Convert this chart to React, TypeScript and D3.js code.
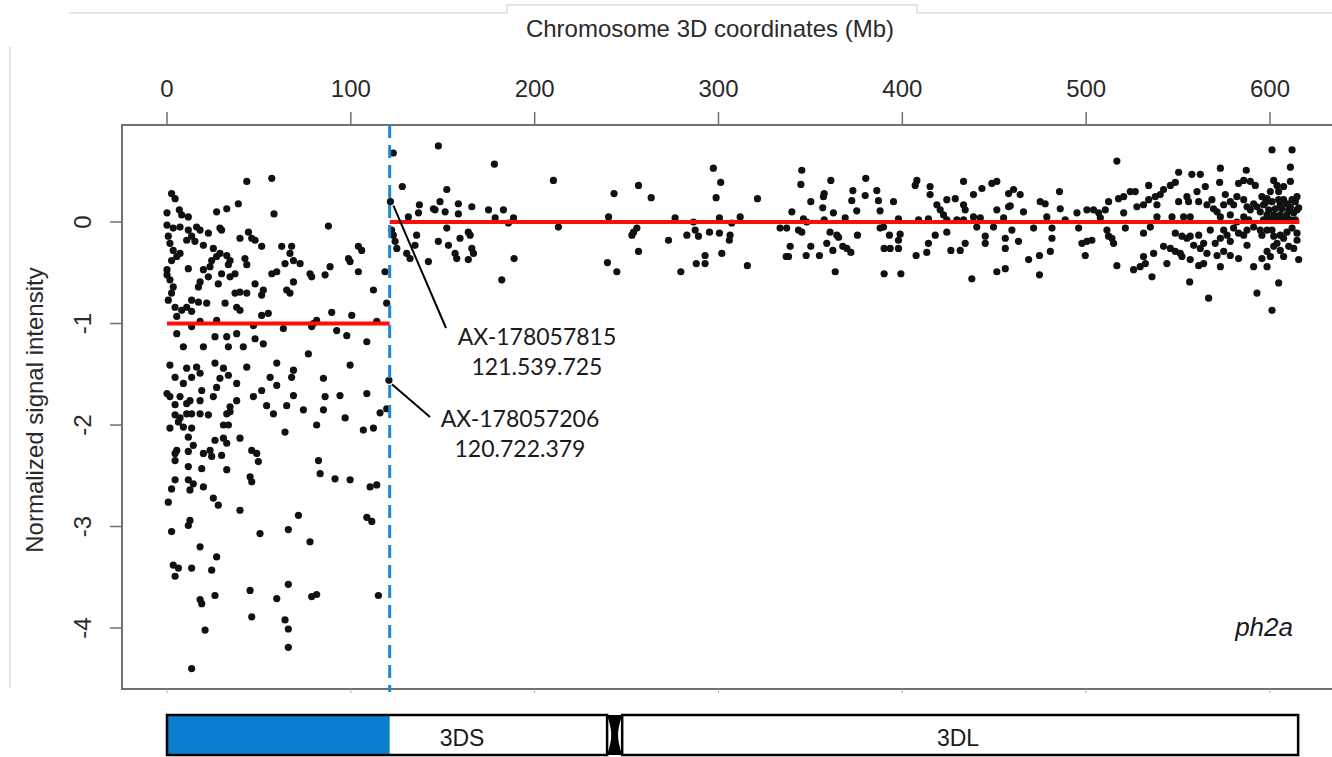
import React, { useEffect, useRef } from 'react';
import * as d3 from 'd3';

// axis ticks
const xTicks = [0, 100, 200, 300, 400, 500, 600];
const yTicks = [0, -1, -2, -3, -4];

// probes on the deleted part of 3DS: [position (Mb), normalized intensity]
const deletedProbes: [number, number][] = [
  [43.4,0.40],[57.0,0.43],[2.5,0.28],[4.4,0.23],[27.0,0.10],[32.5,0.13],[38.8,0.18],[58.2,0.08],[0,0.09],[6.7,0.12],
  [8.0,0.07],[11.6,0.05],[0,-0.03],[3.4,-0.06],[7.1,-0.05],[11.6,-0.08],[16.1,-0.05],[18.0,-0.08],[22.5,-0.11],[28.8,-0.06],
  [29.7,-0.08],[44.3,-0.10],[46.1,-0.16],[47.9,-0.18],[51.5,-0.24],[39.7,-0.16],[87.8,-0.04],[62.4,-0.24],[67.8,-0.24],[66.9,-0.31],
  [0.7,-0.14],[1.6,-0.21],[3.4,-0.28],[5.3,-0.34],[7.1,-0.31],[2.5,-0.38],[0,-0.47],[0,-0.52],[1.6,-0.57],[3.4,-0.64],
  [2.5,-0.70],[0.7,-0.77],[4.4,-0.84],[5.3,-0.93],[10.7,-0.18],[13.4,-0.14],[15.2,-0.19],[19.8,-0.23],[25.2,-0.26],[28.8,-0.31],
  [27.0,-0.34],[32.5,-0.33],[34.3,-0.38],[33.4,-0.42],[29.7,-0.51],[24.3,-0.38],[23.4,-0.44],[19.8,-0.47],[42.4,-0.36],[43.4,-0.42],
  [37.0,-0.51],[11.6,-0.46],[18.0,-0.59],[17.1,-0.64],[22.5,-0.54],[27.9,-0.61],[34.3,-0.54],[37.0,-0.70],[39.7,-0.69],[43.4,-0.70],
  [47.9,-0.61],[52.4,-0.67],[51.5,-0.72],[57.0,-0.51],[59.7,-0.49],[64.2,-0.41],[68.8,-0.38],[72.4,-0.41],[68.8,-0.59],[65.1,-0.67],
  [66.9,-0.70],[77.8,-0.51],[78.7,-0.54],[86.0,-0.52],[88.7,-0.44],[98.7,-0.36],[99.6,-0.39],[104.1,-0.24],[105.9,-0.28],[104.1,-0.49],
  [112.3,-0.67],[118.6,-0.49],[21.6,-0.80],[17.1,-0.79],[13.4,-0.77],[10.7,-0.84],[13.4,-0.88],[8.0,-0.87],[31.6,-0.80],[37.9,-0.84],
  [39.7,-0.87],[51.5,-0.92],[55.1,-0.90],[89.6,-0.89],[100.5,-0.92],[81.4,-0.97],[79.6,-1.00],[114.1,-0.98],[119.5,-0.80],[5.3,-1.10],
  [13.4,-1.03],[18.0,-0.98],[27.0,-0.97],[47.0,-1.02],[63.3,-1.05],[78.7,-1.03],[92.3,-1.07],[97.8,-1.12],[108.7,-1.18],[26.1,-1.13],
  [32.5,-1.13],[37.9,-1.10],[47.9,-1.15],[52.4,-1.20],[33.4,-1.23],[41.5,-1.23],[8.9,-1.23],[19.8,-1.23],[76.9,-1.30],[99.6,-1.41],
  [1.6,-1.41],[10.7,-1.44],[16.1,-1.43],[18.0,-1.49],[13.4,-1.53],[8.9,-1.59],[4.4,-1.53],[26.1,-1.39],[30.7,-1.44],[33.4,-1.51],
  [28.8,-1.54],[27.0,-1.63],[37.9,-1.59],[43.4,-1.43],[59.7,-1.39],[56.1,-1.53],[59.7,-1.61],[68.8,-1.46],[67.8,-1.53],[85.1,-1.54],
  [120.72,-1.56],[0,-1.69],[1.6,-1.72],[7.1,-1.72],[12.5,-1.76],[18.9,-1.66],[18.0,-1.76],[25.2,-1.72],[37.9,-1.76],[47.0,-1.72],
  [51.5,-1.66],[68.8,-1.71],[86.0,-1.72],[94.1,-1.71],[108.7,-1.69],[65.1,-1.81],[54.2,-1.81],[34.3,-1.82],
  [4.4,-1.80],[10.7,-1.79],[4.4,-1.90],[7.1,-1.93],[6.2,-1.97],[10.7,-1.89],[13.4,-1.89],[18.0,-1.89],[22.5,-1.90],[32.5,-1.89],
  [34.3,-1.87],[30.7,-2.00],[33.4,-2.00],[57.9,-1.89],[74.2,-1.85],[85.1,-1.85],[81.4,-2.00],[96.9,-1.93],[106.8,-2.05],[112.3,-2.03],
  [115.9,-1.88],[119.5,-1.84],[64.2,-2.07],[1.6,-2.03],[8.9,-2.02],[13.4,-2.03],[11.6,-2.12],[14.3,-2.20],[26.1,-2.15],[30.7,-2.13],
  [32.5,-2.18],[39.7,-2.13],[5.3,-2.25],[4.4,-2.28],[11.6,-2.26],[19.8,-2.28],[23.4,-2.25],[24.3,-2.31],[29.7,-2.30],[46.1,-2.25],
  [48.8,-2.28],[49.7,-2.36],[4.4,-2.35],[11.6,-2.41],[18.9,-2.43],[32.5,-2.44],[45.2,-2.51],[46.1,-2.56],[82.4,-2.35],[83.3,-2.48],
  [91.4,-2.53],[99.6,-2.54],[110.5,-2.61],[114.1,-2.59],[4.4,-2.54],[2.5,-2.63],[11.6,-2.54],[12.5,-2.64],[14.3,-2.58],[19.8,-2.61],
  [0.7,-2.76],[25.2,-2.72],[27.9,-2.79],[39.7,-2.84],[71.5,-2.89],[108.7,-2.91],[111.4,-2.95],[2.5,-3.05],[11.6,-2.99],[12.5,-2.94],
  [50.6,-3.07],[66.0,-3.03],[77.8,-3.15],[18.0,-3.20],[27.0,-3.30],[3.4,-3.38],[6.2,-3.41],[4.4,-3.49],[13.4,-3.41],[24.3,-3.43],
  [66.0,-3.57],[45.2,-3.63],[26.1,-3.68],[59.7,-3.71],[78.7,-3.69],[81.4,-3.67],[115.0,-3.68],[18.0,-3.72],[18.9,-3.76],[46.1,-3.89],
  [64.2,-3.92],[66.0,-4.01],[20.7,-4.02],[66.0,-4.19],[13.4,-4.40],
];

// probes on the rest of chromosome 3D
const retainedProbes: [number, number][] = [
  [123.1,0.68],[147.6,0.75],[178.1,0.57],[210.2,0.41],[128.0,0.35],[152.2,0.32],[243.2,0.28],[256.5,0.36],[263.4,0.24],[121.54,0.20],
  [137.3,0.17],[144.9,0.13],[148.5,0.20],[151.3,0.10],[158.5,0.18],[158.5,0.08],[165.8,0.15],[174.9,0.12],[183.0,0.12],[178.5,0.04],
  [188.5,0.04],[185.7,-0.01],[131.3,0.05],[136.8,0.09],[145.8,0.12],[212.9,-0.05],[240.2,0.05],[276.4,0.04],[286.4,0.00],[287.3,-0.08],
  [289.1,-0.14],[122.2,-0.08],[123.1,-0.13],[124.1,-0.19],[125.0,-0.26],[135.8,-0.13],[134.9,-0.23],[130.4,-0.31],[132.2,-0.36],[142.2,-0.39],
  [147.6,-0.19],[152.2,-0.06],[153.1,-0.23],[156.7,-0.31],[157.6,-0.36],[159.4,-0.16],[163.9,-0.10],[164.9,-0.13],[165.8,-0.26],[166.7,-0.31],
  [163.9,-0.37],[188.8,-0.36],[182.1,-0.57],[252.9,-0.13],[253.8,-0.10],[255.6,-0.06],[256.5,-0.29],[239.6,-0.40],[244.7,-0.49],[272.8,-0.18],
  [282.8,-0.13],[279.5,-0.49],[287.9,-0.41],
  [297.2,0.53],[345.3,0.51],[301.2,0.39],[344.8,0.37],[298.7,0.24],[321.2,0.23],[361.1,0.41],[380.1,0.43],[407.9,0.41],[407.0,0.36],
  [415.1,0.35],[415.1,0.27],[433.3,0.40],[438.7,0.27],[443.3,0.33],[448.7,0.38],[451.4,0.40],[457.8,0.28],[373.1,0.31],[372.5,0.21],
  [379.8,0.26],[386.1,0.31],[387.0,0.21],[387.9,0.11],[395.2,0.20],[357.5,0.28],[357.1,0.25],[350.2,0.20],[356.7,0.14],[362.5,0.09],
  [339.9,0.10],[375.2,0.11],[368.9,0.04],[346.2,0.03],[357.5,0.02],[397.9,0.03],[408.8,0.02],[414.2,0.03],[418.8,0.17],[420.6,0.12],
  [424.2,0.22],[428.8,0.23],[433.3,0.17],[434.2,0.12],[422.4,0.07],[424.2,0.02],[429.7,0.02],[433.3,0.02],[438.7,0.05],[442.4,0.04],
  [451.4,0.12],[455.1,0.04],[457.8,0.15],[295.1,-0.10],[300.5,-0.11],[300.5,0.04],[306.3,-0.13],[305.9,-0.18],[307.2,-0.01],[311.8,0.05],
  [333.5,-0.06],[337.1,-0.06],[343.5,-0.08],[345.3,-0.10],[348.0,0.00],[339.0,-0.24],[336.8,-0.34],[338.1,-0.34],[347.7,-0.33],[350.2,-0.24],
  [354.9,-0.33],[358.9,-0.21],[360.7,-0.10],[364.4,-0.13],[365.3,-0.15],[362.2,-0.28],[363.5,-0.49],[367.6,-0.24],[369.8,-0.26],[372.0,-0.30],
  [375.6,-0.13],[387.9,-0.06],[389.8,-0.05],[393.0,-0.13],[398.8,-0.12],[397.9,-0.18],[390.1,-0.26],[393.4,-0.26],[397.9,-0.26],[390.1,-0.51],
  [399.2,-0.51],[407.5,-0.33],[413.3,-0.30],[414.2,-0.21],[417.9,-0.13],[424.2,-0.10],[426.4,-0.28],[431.5,-0.28],[434.2,-0.21],[440.5,-0.05],
  [445.1,-0.14],[445.1,-0.21],[449.6,-0.05],[456.0,-0.16],[456.0,-0.26],[437.8,-0.56],[451.4,-0.49],[456.0,-0.46],[292.7,-0.41],[292.7,-0.33],
  [301.8,-0.31],[315.7,-0.43],
  [601.1,0.71],[612.0,0.71],[516.7,0.60],[611.1,0.54],[550.3,0.49],[557.5,0.47],[562.1,0.47],[573.0,0.53],[587.1,0.51],[572.6,0.39],
  [564.8,0.35],[534.0,0.36],[548.5,0.39],[460.5,0.32],[464.1,0.27],[485.5,0.30],[458.7,0.16],[465.9,0.10],[459.6,-0.08],[463.2,-0.19],
  [475.0,0.20],[477.7,0.18],[478.6,0.05],[485.9,0.13],[488.6,0.02],[481.4,-0.06],[481.4,-0.16],[480.5,-0.29],[474.6,-0.33],[468.7,-0.37],
  [474.6,-0.52],[471.4,-0.06],[495.0,0.09],[495.9,-0.06],[500.4,0.12],[504.0,0.12],[506.8,0.09],[507.7,0.04],[510.4,0.12],[512.2,0.20],
  [517.6,0.23],[520.4,0.25],[524.0,0.30],[526.7,0.30],[520.4,0.09],[521.3,-0.06],[511.3,-0.08],[512.2,-0.14],[514.0,-0.16],[514.9,-0.21],
  [497.7,-0.21],[500.4,-0.19],[503.1,-0.18],[499.5,-0.33],[516.7,-0.43],[525.8,-0.47],[529.4,-0.44],[532.2,-0.41],[531.2,-0.34],[536.7,-0.31],
  [535.8,-0.54],[542.1,-0.24],[545.8,-0.26],[548.5,-0.29],[551.2,-0.31],[552.1,-0.34],[556.6,-0.37],[561.2,-0.43],[563.9,-0.41],[556.3,-0.59],
  [566.6,-0.75],[543.9,-0.41],[531.2,-0.11],[534.9,-0.05],[531.2,0.17],[534.0,0.22],[537.6,0.25],[540.3,0.27],[542.1,0.32],[545.8,0.36],
  [538.5,0.17],[546.7,0.05],[550.3,0.20],[554.8,0.25],[555.7,0.20],[561.2,0.20],[556.6,0.05],[553.0,0.05],[548.5,-0.11],[552.1,-0.14],
  [554.8,-0.16],[558.5,-0.23],[562.1,-0.26],[561.2,-0.13],[568.4,0.22],[569.3,0.13],[571.2,0.10],[574.8,0.17],[573.0,0.05],[578.4,0.20],
  [580.2,0.17],[582.9,0.38],[585.7,0.41],[589.3,0.40],[592.0,0.36],[585.7,0.22],[587.5,0.15],[589.3,0.12],[592.9,0.15],[596.5,0.17],
  [598.4,0.23],[600.2,0.30],[602.0,0.41],[603.8,0.36],[607.4,0.22],[611.1,0.15],[613.8,0.20],[614.7,0.12],[576.6,-0.13],[578.4,-0.19],
  [574.8,-0.29],[571.2,-0.33],[573.0,-0.44],[578.4,-0.33],[582.9,-0.36],[582.0,0.00],[587.5,-0.23],[591.1,-0.44],[592.9,-0.70],[598.4,-0.44],
  [601.1,-0.87],[604.7,-0.60],[615.6,-0.37],[598.4,-0.08],[602.0,-0.14],[603.8,-0.21],[607.4,-0.16],[610.2,-0.24],[612.9,-0.26],[612.0,-0.06],
  [598.4,-0.29],[600.2,-0.34],[605.6,-0.28],[596.5,0.02],[600.2,0.02],[603.8,0.02],[607.4,0.02],[611.1,0.02],[613.8,0.02],[599.3,0.12],
  [602.9,0.13],[606.5,0.13],[609.2,0.18],[612.0,0.22],[614.7,0.25],[604.7,0.30],[607.4,0.35],[611.1,0.40],[567.5,-0.08],[563.9,-0.21],
  [565.7,-0.31],[570.2,-0.21],[574.8,-0.08],[582.9,-0.11],[587.5,-0.08],[591.1,-0.05],[594.7,-0.08],
  [595.6,0.25],[597.5,0.19],[601.1,0.20],[604.7,0.22],[605.6,0.17],[610.2,0.12],[612.9,0.09],[615.6,0.14],[602.0,0.07],[605.6,0.07],
  [609.2,0.07],[598.4,0.07],[594.7,0.10],[591.1,0.18],[595.6,-0.13],[601.1,-0.08],[605.6,-0.13],[609.2,-0.10],[614.7,-0.11],[614.7,-0.18],
  [602.0,-0.24],[607.4,-0.34],[595.6,-0.36],[585.7,0.05],[588.4,0.02],[578.4,0.07],[575.7,0.27],[582.0,0.25],[565.7,0.17],[560.3,0.30],
  [538.5,0.05],[527.6,0.15],[556.6,-0.14],[573.0,-0.16],[580.2,-0.06],[585.7,-0.13],
];

// segmentation: mean intensity per segment
const breakpointMb = 121.13;
const segStart = [0, 121.13];
const segEnd = [121.13, 616];
const segMean = [-1, 0];

// flanking markers
const markerIds = ['AX-178057815', 'AX-178057206'];
const markerPos = ['121.539.725', '120.722.379'];
const markerMb = [121.54, 120.72];
const markerValue = [0.2, -1.56];

// chromosome ideogram (Mb)
const armNames = ['3DS', '3DL'];
const armStart = [0, 247.6];
const armEnd = [239.4, 615.3];

export default function App() {
  const svgRef = useRef<SVGSVGElement>(null);

  useEffect(() => {
    if (!svgRef.current) return;
    const svg = d3.select(svgRef.current);
    svg.selectAll('*').remove();

    const sans = "'Liberation Sans', Arial, Helvetica, sans-serif";
    const x = d3.scaleLinear().domain([0, 600]).range([167, 1270]);
    const y = d3.scaleLinear().domain([0, -4]).range([222, 628]);
    const box = { left: 122, top: 125, right: 1345, bottom: 689 };

    // faint screenshot frame lines
    svg.append('path')
      .attr('d', 'M69,13H507V5H917V13H1332M10,47V688')
      .attr('fill', 'none')
      .attr('stroke', '#dcdcdc')
      .attr('stroke-width', 1.5);

    // title
    svg.append('text')
      .attr('x', 710).attr('y', 37)
      .attr('text-anchor', 'middle')
      .attr('font-family', sans).attr('font-size', 24).attr('fill', '#2a2a2a')
      .text('Chromosome 3D coordinates (Mb)');

    // plot frame
    svg.append('rect')
      .attr('x', box.left).attr('y', box.top)
      .attr('width', box.right - box.left).attr('height', box.bottom - box.top)
      .attr('fill', 'none').attr('stroke', '#707070').attr('stroke-width', 2);

    // top axis
    const xt = svg.append('g');
    xt.selectAll('line.tick').data(xTicks).join('line')
      .attr('class', 'tick')
      .attr('x1', d => x(d)).attr('x2', d => x(d))
      .attr('y1', box.top).attr('y2', box.top - 13)
      .attr('stroke', '#707070').attr('stroke-width', 1.5);
    xt.selectAll('line.btick').data(xTicks).join('line')
      .attr('class', 'btick')
      .attr('x1', d => x(d)).attr('x2', d => x(d))
      .attr('y1', box.bottom).attr('y2', box.bottom + 4)
      .attr('stroke', '#b0b0b0').attr('stroke-width', 1);
    xt.selectAll('text').data(xTicks).join('text')
      .attr('x', d => x(d)).attr('y', 97)
      .attr('text-anchor', 'middle')
      .attr('font-family', sans).attr('font-size', 24).attr('fill', '#2a2a2a')
      .text(d => d);

    // left axis
    const yt = svg.append('g');
    yt.selectAll('line').data(yTicks).join('line')
      .attr('x1', box.left).attr('x2', box.left - 12)
      .attr('y1', d => y(d)).attr('y2', d => y(d))
      .attr('stroke', '#707070').attr('stroke-width', 1.5);
    yt.selectAll('text').data(yTicks).join('text')
      .attr('transform', d => `translate(91,${y(d)}) rotate(-90)`)
      .attr('text-anchor', 'middle')
      .attr('font-family', sans).attr('font-size', 24).attr('fill', '#2a2a2a')
      .text(d => (d < 0 ? `-${Math.abs(d)}` : `${d}`));
    svg.append('text')
      .attr('transform', 'translate(43,410) rotate(-90)')
      .attr('text-anchor', 'middle')
      .attr('font-family', sans).attr('font-size', 24).attr('fill', '#2a2a2a')
      .text('Normalized signal intensity');

    // probes
    const probes = deletedProbes.concat(retainedProbes);
    svg.append('g').selectAll('circle').data(probes).join('circle')
      .attr('cx', d => x(d[0])).attr('cy', d => y(d[1]))
      .attr('r', 3.6).attr('fill', '#111');

    // segment means
    svg.append('g').selectAll('line').data(segMean).join('line')
      .attr('x1', (_, i) => x(segStart[i])).attr('x2', (_, i) => x(segEnd[i]))
      .attr('y1', d => y(d)).attr('y2', d => y(d))
      .attr('stroke', '#ff0d0d').attr('stroke-width', 4);

    // breakpoint
    svg.append('line')
      .attr('x1', x(breakpointMb)).attr('x2', x(breakpointMb))
      .attr('y1', box.top).attr('y2', box.bottom + 3)
      .attr('stroke', '#1b8ad3').attr('stroke-width', 3)
      .attr('stroke-dasharray', '13,7');

    // marker callouts
    const labelAt = [[537, 345], [520, 427]];
    const leaderEnd = [[446, 328], [430, 417]];
    markerIds.forEach((id, i) => {
      const mx = x(markerMb[i]);
      const my = y(markerValue[i]);
      svg.append('line')
        .attr('x1', mx + 3).attr('y1', my + 4)
        .attr('x2', leaderEnd[i][0]).attr('y2', leaderEnd[i][1])
        .attr('stroke', '#000').attr('stroke-width', 2);
      const t = svg.append('text')
        .attr('text-anchor', 'middle')
        .attr('font-family', "Lato, 'Open Sans', sans-serif")
        .attr('font-size', 23).attr('fill', '#1a1a1a');
      t.append('tspan').attr('x', labelAt[i][0]).attr('y', labelAt[i][1]).text(id);
      t.append('tspan').attr('x', labelAt[i][0]).attr('y', labelAt[i][1] + 30).text(markerPos[i]);
    });

    // mutant label
    svg.append('text')
      .attr('x', 1293).attr('y', 636)
      .attr('text-anchor', 'end')
      .attr('font-family', sans).attr('font-style', 'italic')
      .attr('font-size', 26).attr('fill', '#1a1a1a')
      .text('ph2a');

    // ideogram
    const top = 715, bot = 755, mid = (top + bot) / 2;
    const ideo = svg.append('g');
    ideo.append('rect')
      .attr('x', x(0)).attr('y', top)
      .attr('width', x(breakpointMb) - x(0)).attr('height', bot - top)
      .attr('fill', '#0b7fcf');
    ideo.selectAll('rect.arm').data(armNames).join('rect')
      .attr('class', 'arm')
      .attr('x', (_, i) => x(armStart[i])).attr('y', top)
      .attr('width', (_, i) => x(armEnd[i]) - x(armStart[i])).attr('height', bot - top)
      .attr('fill', 'none').attr('stroke', '#000').attr('stroke-width', 2.5);
    const cx0 = x(armEnd[0]), cx1 = x(armStart[1]), cm = (cx0 + cx1) / 2;
    ideo.append('path')
      .attr('d', `M${cx0},${top}L${cx1},${top}Q${cm + 3},${mid - 6} ${cm + 3.5},${mid}Q${cm + 3},${mid + 6} ${cx1},${bot}L${cx0},${bot}Q${cm - 3},${mid + 6} ${cm - 3.5},${mid}Q${cm - 3},${mid - 6} ${cx0},${top}Z`)
      .attr('fill', '#000');
    ideo.selectAll('text').data(armNames).join('text')
      .attr('x', (_, i) => (i === 0 ? 462 : 958))
      .attr('y', 746)
      .attr('text-anchor', 'middle')
      .attr('font-family', sans).attr('font-size', 23).attr('fill', '#1a1a1a')
      .text(d => d);
  }, []);

  return (
    <svg
      ref={svgRef}
      width={1332}
      height={757}
      style={{ position: 'absolute', left: 0, top: 0, background: '#fff' }}
    />
  );
}
